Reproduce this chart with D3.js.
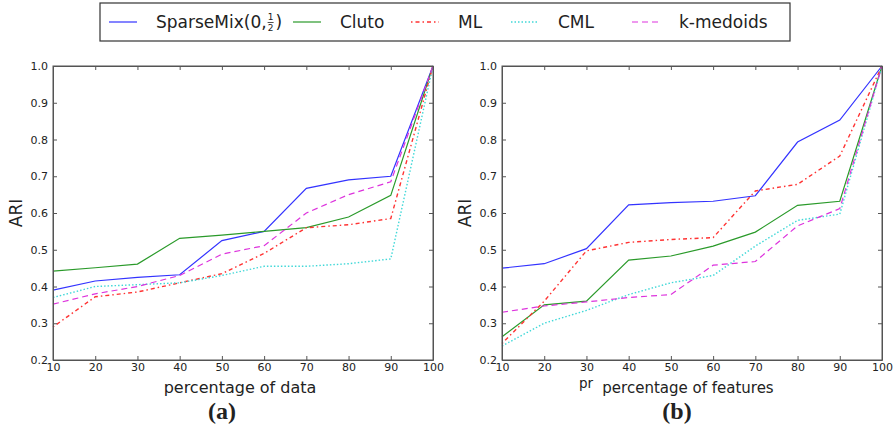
<!DOCTYPE html>
<html>
<head>
<meta charset="utf-8">
<script src="https://cdn.jsdelivr.net/npm/d3@7"></script>
<style>
  body { margin: 0; background: #fff; }
  text { font-family: "DejaVu Sans", sans-serif; fill: #222; }
</style>
</head>
<body>
<div id="chart"></div>
<script>
const w = 893;
const h = 429;

// x values shared by both panels
const pct = [10, 20, 30, 40, 50, 60, 70, 80, 90, 100];
const yTicks = [0.2, 0.3, 0.4, 0.5, 0.6, 0.7, 0.8, 0.9, 1.0];

// panel (a): percentage of data
const sparseA = [0.39, 0.415, 0.425, 0.432, 0.525, 0.55, 0.667, 0.69, 0.70, 1.0];
const clutoA  = [0.442, 0.451, 0.461, 0.531, 0.54, 0.55, 0.56, 0.589, 0.648, 1.0];
const mlA     = [0.29, 0.372, 0.385, 0.41, 0.435, 0.49, 0.56, 0.568, 0.585, 1.0];
const cmlA    = [0.37, 0.40, 0.405, 0.41, 0.43, 0.455, 0.455, 0.462, 0.475, 1.0];
const kmedA   = [0.352, 0.38, 0.40, 0.43, 0.488, 0.511, 0.60, 0.65, 0.685, 1.0];

// panel (b): percentage of features
const sparseB = [0.45, 0.462, 0.503, 0.622, 0.628, 0.632, 0.647, 0.793, 0.853, 1.0];
const clutoB  = [0.263, 0.35, 0.36, 0.472, 0.483, 0.51, 0.548, 0.621, 0.632, 1.0];
const mlB     = [0.245, 0.36, 0.497, 0.52, 0.528, 0.533, 0.66, 0.678, 0.755, 1.0];
const cmlB    = [0.238, 0.30, 0.335, 0.378, 0.41, 0.43, 0.51, 0.58, 0.597, 1.0];
const kmedB   = [0.33, 0.347, 0.358, 0.37, 0.378, 0.458, 0.468, 0.565, 0.612, 1.0];

const methods = ['SparseMix', 'Cluto', 'ML', 'CML', 'k-medoids'];
const colors = {'SparseMix': '#3333ff', 'Cluto': '#2a9a2a', 'ML': '#ff3333', 'CML': '#40d8d8', 'k-medoids': '#dd33dd'};
const dashes = {'SparseMix': null, 'Cluto': null, 'ML': '1.5,3,4,3', 'CML': '1.5,2', 'k-medoids': '6,4'};

const panels = [
  {x0: 53, x1: 433, xlabel: 'percentage of data', lx: 240, lsize: 16, tag: '(a)', tx: 222,
   series: [sparseA, clutoA, mlA, cmlA, kmedA]},
  {x0: 502, x1: 882, xlabel: 'percentage of features', lx: 688, lsize: 15, tag: '(b)', tx: 677,
   series: [sparseB, clutoB, mlB, cmlB, kmedB]}
];
const yTop = 66, yBot = 360;

const svg = d3.select('#chart').append('svg')
  .attr('width', w).attr('height', h);

const y = d3.scaleLinear().domain([0.2, 1.0]).range([yBot, yTop]);

panels.forEach((p, pi) => {
  const x = d3.scaleLinear().domain([10, 100]).range([p.x0, p.x1]);
  const g = svg.append('g');

  // lines
  const line = d3.line().x((d, i) => x(pct[i])).y(d => y(d));
  p.series.forEach((s, i) => {
    const m = methods[i];
    g.append('path')
      .datum(s)
      .attr('d', line)
      .attr('fill', 'none')
      .attr('stroke', colors[m])
      .attr('stroke-width', m === 'ML' || m === 'CML' ? 1.4 : 1.2)
      .attr('stroke-dasharray', dashes[m]);
  });

  // inward ticks on all four sides
  const bottom = d3.axisBottom(x).tickValues(pct).tickSizeInner(-4).tickSizeOuter(0).tickPadding(6);
  const left = d3.axisLeft(y).tickValues(yTicks).tickFormat(d3.format('.1f')).tickSizeInner(-4).tickSizeOuter(0).tickPadding(5);
  const top = d3.axisTop(x).tickValues(pct).tickSizeInner(-4).tickSizeOuter(0).tickFormat('');
  const right = d3.axisRight(y).tickValues(yTicks).tickSizeInner(-4).tickSizeOuter(0).tickFormat('');

  const gb = g.append('g').attr('transform', `translate(0,${yBot})`).call(bottom);
  g.append('g').attr('transform', `translate(${p.x0},0)`).call(left);
  g.append('g').attr('transform', `translate(0,${yTop})`).call(top);
  g.append('g').attr('transform', `translate(${p.x1},0)`).call(right);
  g.selectAll('.domain').attr('stroke', '#555');
  g.selectAll('.tick line').attr('stroke', '#555');
  g.selectAll('.tick text').style('font-family', 'DejaVu Sans').style('font-size', '11px').attr('fill', '#222');
  gb.selectAll('.tick text').attr('dy', '0.45em');

  g.append('rect')
    .attr('x', p.x0).attr('y', yTop)
    .attr('width', p.x1 - p.x0).attr('height', yBot - yTop)
    .attr('fill', 'none').attr('stroke', '#555').attr('stroke-width', 1);

  // axis labels
  g.append('text')
    .attr('transform', `translate(${p.x0 - 31},${(yTop + yBot) / 2}) rotate(-90)`)
    .attr('text-anchor', 'middle')
    .style('font-size', '17px')
    .text('ARI');
  g.append('text')
    .attr('x', p.lx).attr('y', 393)
    .attr('text-anchor', 'middle')
    .style('font-size', p.lsize + 'px')
    .text(p.xlabel);
  g.append('text')
    .attr('x', p.tx).attr('y', 419)
    .attr('text-anchor', 'middle')
    .style('font-family', '"Liberation Serif", serif')
    .style('font-weight', 'bold')
    .style('font-size', '24px')
    .text(p.tag);
});

// stray "pr" label in panel (b), sits just under the "30" tick
svg.append('text')
  .attr('x', 579).attr('y', 388)
  .style('font-size', '13.5px')
  .text('pr');

// legend
const legend = svg.append('g').attr('id', 'legend');
legend.append('rect')
  .attr('x', 100).attr('y', 3).attr('width', 690).attr('height', 38)
  .attr('fill', '#fff').attr('stroke', '#333').attr('stroke-width', 1.2);

const legX = [109, 293, 411, 511, 632];
methods.forEach((m, i) => {
  legend.append('line')
    .attr('x1', legX[i]).attr('x2', legX[i] + 28)
    .attr('y1', 22).attr('y2', 22)
    .attr('stroke', colors[m])
    .attr('stroke-width', m === 'ML' || m === 'CML' ? 1.4 : 1.2)
    .attr('stroke-dasharray', dashes[m]);
  const t = legend.append('text')
    .attr('x', legX[i] + 47).attr('y', 28)
    .style('font-size', '17px');
  if (m === 'SparseMix') {
    t.text('SparseMix(0,');
    const tw = t.node().getComputedTextLength();
    const fx = legX[i] + 47 + tw + 4;
    legend.append('text').attr('x', fx).attr('y', 20).attr('text-anchor', 'middle').style('font-size', '9px').text('1');
    legend.append('line').attr('x1', fx - 3).attr('x2', fx + 3).attr('y1', 22.5).attr('y2', 22.5).attr('stroke', '#222').attr('stroke-width', 0.8);
    legend.append('text').attr('x', fx).attr('y', 31).attr('text-anchor', 'middle').style('font-size', '9px').text('2');
    legend.append('text').attr('x', fx + 5).attr('y', 28).style('font-size', '17px').text(')');
  } else {
    t.text(m);
  }
});
</script>
</body>
</html>
